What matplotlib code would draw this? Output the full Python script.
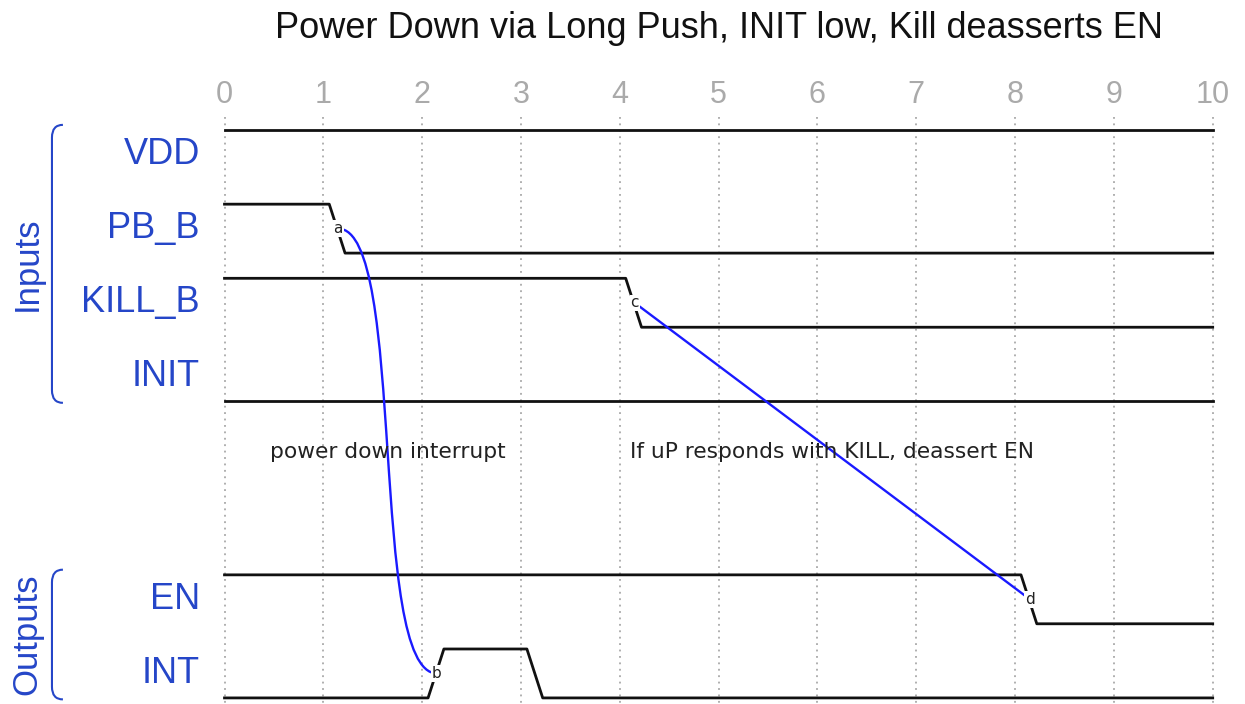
import matplotlib
matplotlib.use('Agg')
import matplotlib.pyplot as plt
from matplotlib.path import Path
from matplotlib.patches import PathPatch

# signal names (top to bottom) and their levels per time step
names = ['VDD', 'PB_B', 'KILL_B', 'INIT', '', '', 'EN', 'INT']
vdd    = [1, 1, 1, 1, 1, 1, 1, 1, 1, 1]
pb_b   = [1, 0, 0, 0, 0, 0, 0, 0, 0, 0]
kill_b = [1, 1, 1, 1, 0, 0, 0, 0, 0, 0]
init   = [0, 0, 0, 0, 0, 0, 0, 0, 0, 0]
en     = [1, 1, 1, 1, 1, 1, 1, 1, 0, 0]
intr   = [0, 0, 1, 0, 0, 0, 0, 0, 0, 0]
levels = [vdd, pb_b, kill_b, init, None, None, en, intr]
ticks = list(range(11))

# markers: name -> (row, time step)
nodes = {'a': (1, 1), 'b': (7, 2), 'c': (2, 4), 'd': (6, 8)}
# edges: from, to, kind, label
edges = [('a', 'b', '~', 'power down interrupt'),
         ('c', 'd', '-', 'If uP responds with KILL, deassert EN')]
# groups: label, first row, last row
groups = [('Inputs', 0, 3), ('Outputs', 6, 7)]

BLUE = '#2546c8'
HI, LO = -0.33, 0.33
T0, T1 = 0.06, 0.22   # transition start / end inside a step

fig = plt.figure(figsize=(12.45, 7.04), dpi=100)
ax = fig.add_axes([224.5 / 1245, 0, 988.2 / 1245, 1])
ax.set_xlim(0, 10)
ax.set_ylim(7.412, -2.084)
ax.axis('off')

# grid + tick labels
for t in ticks:
    ax.plot([t, t], [-0.5, 7.42], color='#9a9a9a', lw=1.1,
            linestyle=(0, (1.2, 3)), clip_on=False, zorder=1)
    ax.text(t, -0.8, str(t), ha='center', va='center', fontsize=22,
            color='#aaaaaa', family='Liberation Sans')

ax.text(5, -1.70, 'Power Down via Long Push, INIT low, Kill deasserts EN',
        ha='center', va='center', fontsize=26, color='#111111',
        family='Liberation Sans')

# signals
for row, (name, lv) in enumerate(zip(names, levels)):
    if name:
        ax.text(-0.25, row, name, ha='right', va='center', fontsize=26,
                color=BLUE, family='Liberation Sans')
    if lv is None:
        continue
    y = lambda v: row + (HI if v else LO)
    xs, ys = [0], [y(lv[0])]
    for i in range(1, len(lv)):
        if lv[i] != lv[i - 1]:
            xs += [i + T0, i + T1]
            ys += [y(lv[i - 1]), y(lv[i])]
    xs.append(len(lv))
    ys.append(y(lv[-1]))
    ax.plot(xs, ys, color='#111111', lw=2.0, clip_on=False, zorder=3,
            solid_joinstyle='round')

# edges
def node_xy(n):
    r, t = nodes[n]
    return t + 0.15, r

for a, b, kind, label in edges:
    x0, y0 = node_xy(a)
    x1, y1 = node_xy(b)
    dx, dy = x1 - x0, y1 - y0
    if kind == '~':
        verts = [(x0, y0), (x0 + 0.7 * dx, y0), (x0 + 0.3 * dx, y1), (x1, y1)]
        codes = [Path.MOVETO, Path.CURVE4, Path.CURVE4, Path.CURVE4]
    else:
        verts = [(x0, y0), (x1, y1)]
        codes = [Path.MOVETO, Path.LINETO]
    ax.add_patch(PathPatch(Path(verts, codes), fill=False, ec='#1a1aff',
                           lw=1.7, clip_on=False, zorder=4))
    ax.text((x0 + x1) / 2, (y0 + y1) / 2 + 0.01, label, ha='center',
            va='center', fontsize=15.7, color='#222222', zorder=5,
            family='DejaVu Sans')

for n in nodes:
    x, y = node_xy(n)
    ax.text(x, y, n, ha='center', va='center', fontsize=11, color='#222222',
            zorder=6, bbox=dict(boxstyle='square,pad=0.05', fc='white',
                                ec='none'))

# group brackets
xv, xe = -1.746, -1.635
for label, r0, r1 in groups:
    top, bot = r0 - 0.40, r1 + 0.35
    c = 0.17
    verts = [(xe, top), (xv, top), (xv, top + c), (xv, bot - c),
             (xv, bot), (xe, bot)]
    codes = [Path.MOVETO, Path.CURVE3, Path.CURVE3, Path.LINETO,
             Path.CURVE3, Path.CURVE3]
    ax.add_patch(PathPatch(Path(verts, codes), fill=False, ec=BLUE, lw=1.5,
                           clip_on=False))
    ax.text(-2.0, (top + bot) / 2, label, rotation=90, ha='center',
            va='center', fontsize=25, color=BLUE, family='Liberation Sans')

fig.savefig('out.png', dpi=100, facecolor='white')
